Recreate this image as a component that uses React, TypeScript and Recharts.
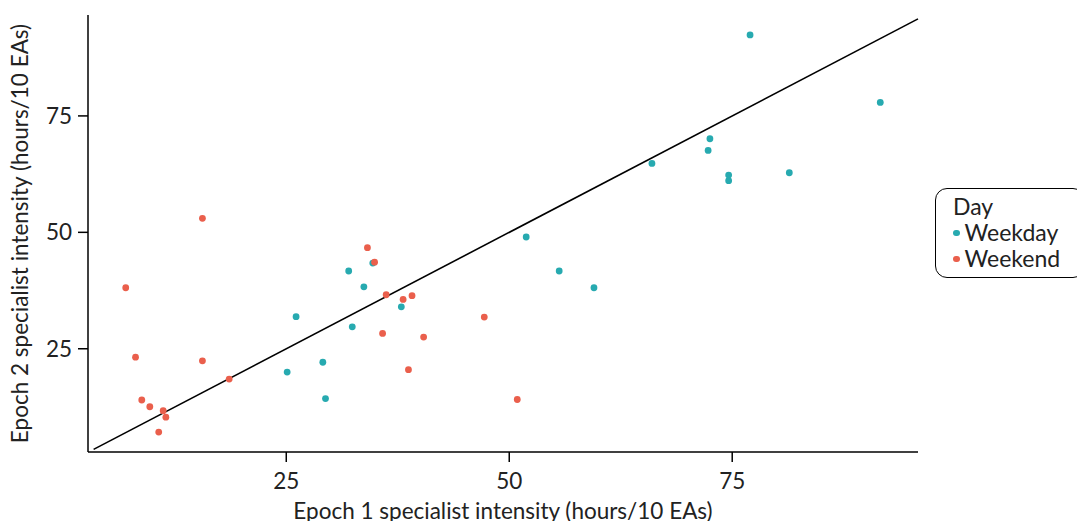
import {
  ScatterChart,
  Scatter,
  XAxis,
  YAxis,
  ReferenceLine,
} from "recharts";

// epoch 1 / epoch 2 intensity, hours per 10 EAs
const weekdayX = [25.1, 26.1, 29.1, 29.4, 32.0, 32.4, 33.7, 34.7, 37.9, 51.9, 55.6, 59.5, 66.0, 72.3, 72.5, 74.6, 74.6, 77.0, 81.4, 91.6];
const weekdayY = [20.0, 31.9, 22.1, 14.3, 41.7, 29.7, 38.3, 43.4, 34.0, 49.0, 41.7, 38.1, 64.8, 67.6, 70.1, 62.3, 61.1, 92.4, 62.8, 77.9];

const weekendX = [7.0, 8.1, 8.8, 9.7, 10.7, 11.2, 11.5, 15.6, 15.6, 18.6, 34.1, 34.9, 35.8, 36.2, 38.1, 38.7, 39.1, 40.4, 47.2, 50.9];
const weekendY = [38.1, 23.2, 14.0, 12.55, 7.1, 11.7, 10.3, 53.0, 22.4, 18.5, 46.7, 43.6, 28.3, 36.6, 35.6, 20.5, 36.4, 27.5, 31.8, 14.1];

const ticks = [25, 50, 75];
const xDomain = [2.77, 95.83];
const yDomain = [2.83, 96.67];

const TEAL = "#27AAB0";
const RED = "#EA5F4C";
const FONT = "Lato, 'DejaVu Sans', sans-serif";
const FS = 22.5;

const weekday = weekdayX.map((x, i) => ({ x, y: weekdayY[i] }));
const weekend = weekendX.map((x, i) => ({ x, y: weekendY[i] }));

const Dot = (props: any) => {
  const { cx, cy, fill } = props;
  return <circle cx={cx} cy={cy} r={3.4} fill={fill} />;
};

export default function App() {
  return (
    <div style={{ position: "absolute", left: 0, top: 0, width: 1077, height: 521, background: "#fff", overflow: "hidden" }}>
      <ScatterChart
        width={1077}
        height={521}
        margin={{ top: 15, right: 159, bottom: 0, left: 0 }}
      >
        <XAxis
          type="number"
          dataKey="x"
          domain={xDomain}
          ticks={ticks}
          height={69}
          tickSize={10}
          tickMargin={11}
          stroke="#000"
          strokeWidth={1.5}
          tick={{ fill: "#222", fontSize: FS, fontFamily: FONT }}
          label={{
            value: "Epoch 1 specialist intensity (hours/10 EAs)",
            position: "insideBottom",
            offset: 2,
            fill: "#222",
            fontSize: FS,
            fontFamily: FONT,
          }}
        />
        <YAxis
          type="number"
          dataKey="y"
          domain={yDomain}
          ticks={ticks}
          width={88}
          tickSize={10}
          tickMargin={6}
          stroke="#000"
          strokeWidth={1.5}
          tick={{ fill: "#222", fontSize: FS, fontFamily: FONT }}
          label={{
            value: "Epoch 2 specialist intensity (hours/10 EAs)",
            angle: -90,
            position: "insideLeft",
            offset: 20,
            style: { textAnchor: "middle" },
            fill: "#222",
            fontSize: FS,
            fontFamily: FONT,
          }}
        />
        <ReferenceLine
          segment={[
            { x: 3.4, y: 3.4 },
            { x: 95.83, y: 95.83 },
          ]}
          stroke="#000"
          strokeWidth={1.6}
        />
        <Scatter name="Weekday" data={weekday} fill={TEAL} shape={Dot} isAnimationActive={false} />
        <Scatter name="Weekend" data={weekend} fill={RED} shape={Dot} isAnimationActive={false} />
      </ScatterChart>
      <div
        style={{
          position: "absolute",
          left: 935,
          top: 188,
          width: 150,
          height: 90,
          border: "1.5px solid #000",
          borderRadius: 12,
          boxSizing: "border-box",
          fontFamily: FONT,
          fontSize: 23,
          color: "#222",
          padding: "4px 0 0 17px",
          lineHeight: "26px",
        }}
      >
        <div>Day</div>
        {[
          { name: "Weekday", color: TEAL },
          { name: "Weekend", color: RED },
        ].map((d) => (
          <div key={d.name} style={{ display: "flex", alignItems: "center" }}>
            <span
              style={{
                display: "inline-block",
                width: 6.5,
                height: 6.5,
                borderRadius: "50%",
                background: d.color,
                marginRight: 5,
                marginTop: 2,
              }}
            />
            {d.name}
          </div>
        ))}
      </div>
    </div>
  );
}
